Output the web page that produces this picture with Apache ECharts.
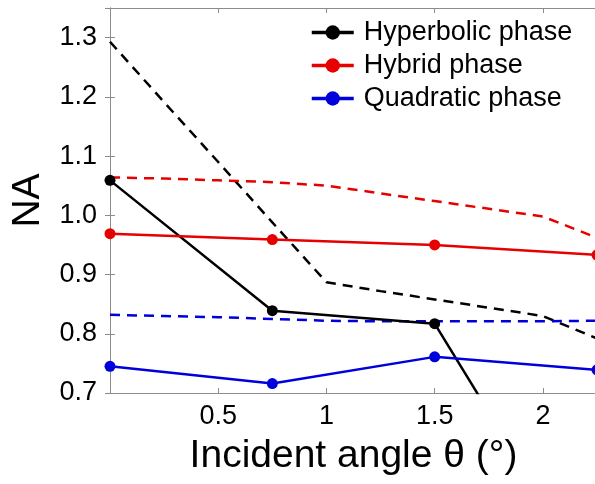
<!DOCTYPE html>
<html>
<head>
<meta charset="utf-8">
<script src="https://cdn.jsdelivr.net/npm/echarts@6/dist/echarts.min.js"></script>
<style>
  html, body { margin: 0; padding: 0; background: #fff; }
  #chart { width: 595px; height: 484px; }
</style>
</head>
<body>
<div id="chart"></div>
<script>
// Incident angle (degrees) for the measured points and the simulated curves
const measuredAngles = [0, 0.75, 1.5, 2.25];
const simAngles = [0, 0.25, 0.5, 0.75, 1.0, 1.25, 1.5, 1.75, 2.0, 2.25];

// Measured NA (solid lines with markers)
const hyperbolicNA = [1.059, 0.839, 0.817, 0.37];
const hybridNA = [0.969, 0.959, 0.950, 0.933];
const quadraticNA = [0.745, 0.716, 0.761, 0.739];

// Simulated NA (dashed lines)
const hyperbolicSimNA = [1.293, 1.191, 1.090, 0.988, 0.887, 0.872, 0.858, 0.844, 0.830, 0.792];
const hybridSimNA = [1.064, 1.062, 1.059, 1.056, 1.050, 1.037, 1.024, 1.011, 0.998, 0.962];
const quadraticSimNA = [0.832, 0.830, 0.828, 0.825, 0.822, 0.821, 0.821, 0.821, 0.821, 0.822];

// Axis ticks
const xTicks = { min: 0, max: 2.25, interval: 0.5 };
const yTicks = { min: 0.7, max: 1.35, interval: 0.1 };

const seriesNames = ['Hyperbolic phase', 'Hybrid phase', 'Quadratic phase'];
const colors = ['#000000', '#e60000', '#0000dd'];

const FONT = 'Liberation Sans, Arial, sans-serif';
const AXIS_GRAY = '#8c8c8c';

function pairs(xs, ys) { return xs.map((x, i) => [x, ys[i]]); }

function solid(name, color, ys) {
  return {
    name: name, type: 'line', data: pairs(measuredAngles, ys),
    symbol: 'circle', symbolSize: 11,
    lineStyle: { color: color, width: 2.5 },
    itemStyle: { color: color },
    z: 3
  };
}
function dashed(name, color, ys) {
  return {
    name: name, type: 'line', data: pairs(simAngles, ys),
    showSymbol: false, symbol: 'none',
    lineStyle: { color: color, width: 2.5, type: [10, 7] },
    itemStyle: { color: color },
    z: 2
  };
}

const axisCommon = {
  axisLine: { show: true, lineStyle: { color: AXIS_GRAY, width: 1 } },
  axisTick: { show: true, inside: true, length: 5, lineStyle: { color: AXIS_GRAY } },
  splitLine: { show: false }
};

const chart = echarts.init(document.getElementById('chart'), null, { renderer: 'canvas' });
chart.setOption({
  animation: false,
  backgroundColor: '#ffffff',
  grid: {
    left: 110, top: 8, width: 487, height: 385,
    containLabel: false, outerBoundsMode: 'none'
  },
  legend: {
    data: seriesNames,
    orient: 'vertical',
    left: 310, top: 16,
    padding: 0,
    itemWidth: 42, itemHeight: 18, itemGap: 0,
    lineStyle: { width: 3.5 },
    textStyle: { fontFamily: FONT, fontSize: 27, color: '#000', lineHeight: 33, padding: [0, 0, 0, 5] }
  },
  xAxis: [
    Object.assign({
      type: 'value', position: 'bottom',
      min: xTicks.min, max: xTicks.max, interval: xTicks.interval,
      name: 'Incident angle θ (°)', nameLocation: 'middle', nameGap: 44,
      nameTextStyle: { fontFamily: FONT, fontSize: 39, color: '#000' },
      axisLabel: {
        fontFamily: FONT, fontSize: 27, color: '#000', margin: 10,
        showMinLabel: false, showMaxLabel: false,
        formatter: v => (v === 0 ? '' : String(v))
      }
    }, axisCommon),
    Object.assign({
      type: 'value', position: 'top',
      min: xTicks.min, max: xTicks.max, interval: xTicks.interval,
      axisLabel: { show: false }
    }, axisCommon)
  ],
  yAxis: [
    Object.assign({
      type: 'value', position: 'left',
      min: yTicks.min, max: yTicks.max, interval: yTicks.interval,
      name: 'NA', nameLocation: 'middle', nameGap: 62,
      nameTextStyle: { fontFamily: FONT, fontSize: 39, color: '#000' },
      axisLabel: {
        fontFamily: FONT, fontSize: 27, color: '#000', margin: 13,
        formatter: v => v.toFixed(1),
        showMaxLabel: false
      }
    }, axisCommon),
    Object.assign({
      type: 'value', position: 'right',
      min: yTicks.min, max: yTicks.max, interval: yTicks.interval,
      axisLabel: { show: false }
    }, axisCommon)
  ],
  series: [
    dashed('Hyperbolic phase (simulated)', colors[0], hyperbolicSimNA),
    dashed('Hybrid phase (simulated)', colors[1], hybridSimNA),
    dashed('Quadratic phase (simulated)', colors[2], quadraticSimNA),
    solid(seriesNames[0], colors[0], hyperbolicNA),
    solid(seriesNames[1], colors[1], hybridNA),
    solid(seriesNames[2], colors[2], quadraticNA)
  ]
});
</script>
</body>
</html>
